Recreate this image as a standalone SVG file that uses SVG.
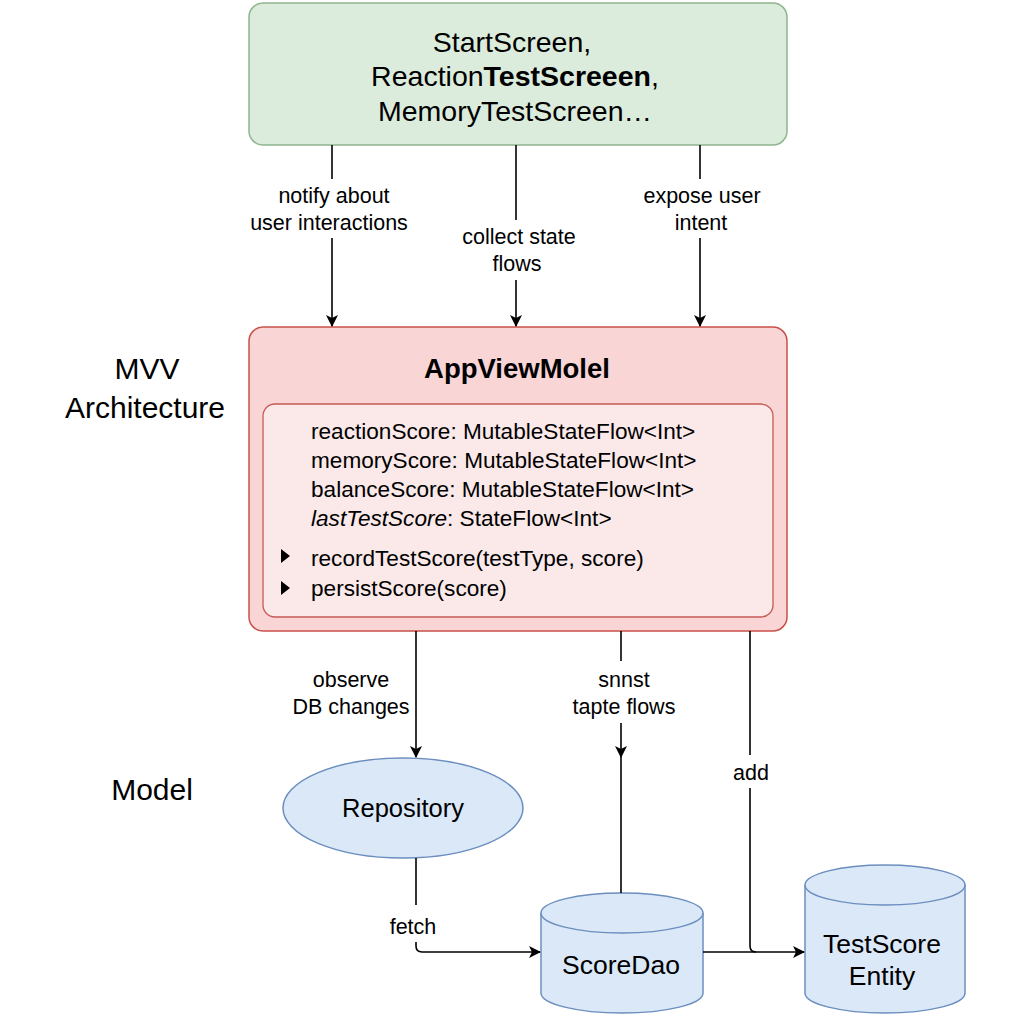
<svg xmlns="http://www.w3.org/2000/svg" width="1024" height="1024" viewBox="0 0 1024 1024">
<defs>
<marker id="ah" markerWidth="12" markerHeight="12" refX="11" refY="6" orient="auto" markerUnits="userSpaceOnUse">
<path d="M0,0 L12,6 L0,12 L3,6 Z" fill="#000"/>
</marker>
<style>
text{font-family:"Liberation Sans",Arial,sans-serif;fill:#000}
.lbl{font-size:21.5px;text-anchor:middle}
.big{font-size:28.5px;text-anchor:middle}
.side{font-size:30px;text-anchor:middle}
.mem{font-size:22.6px}
.ln{stroke:#000;stroke-width:1.6;fill:none}
.db{fill:#dae8f8;stroke:#6c8ebf;stroke-width:1.5}
</style>
</defs>
<rect width="1024" height="1024" fill="#fff"/>

<g id="views">
<rect x="249" y="3" width="538" height="142" rx="14" fill="#dbebdc" stroke="#8fb58f" stroke-width="1.5"/>
<text class="big" x="512" y="52">StartScreen,</text>
<text class="big" x="515" y="86">Reaction<tspan font-weight="bold">TestScreeen</tspan>,</text>
<text class="big" x="515" y="121">MemoryTestScreen…</text>
</g>

<g id="labels-side">
<text class="side" x="147" y="379">MVV</text>
<text class="side" x="145" y="418">Architecture</text>
<text class="side" x="152" y="800">Model</text>
</g>

<g id="viewmodel">
<rect x="249" y="327" width="538" height="304" rx="14" fill="#f9d5d5" stroke="#c9504a" stroke-width="1.5"/>
<text x="517" y="378" font-size="27.5" font-weight="bold" text-anchor="middle">AppViewMolel</text>
<rect x="263" y="404" width="510" height="213" rx="12" fill="#fbe9e9" stroke="#c65a55" stroke-width="1.3"/>
<text class="mem" x="311" y="439">reactionScore: MutableStateFlow&lt;Int&gt;</text>
<text class="mem" x="311" y="468">memoryScore: MutableStateFlow&lt;Int&gt;</text>
<text class="mem" x="311" y="497">balanceScore: MutableStateFlow&lt;Int&gt;</text>
<text class="mem" x="311" y="526"><tspan font-style="italic">lastTestScore</tspan>: StateFlow&lt;Int&gt;</text>
<path d="M281,549 L290,556 L281,563 Z" fill="#000"/>
<text class="mem" x="311" y="566">recordTestScore(testType, score)</text>
<path d="M281,581 L290,588 L281,595 Z" fill="#000"/>
<text class="mem" x="311" y="596">persistScore(score)</text>
</g>

<g id="repository">
<ellipse cx="403" cy="808" rx="120" ry="50" fill="#dae8f8" stroke="#6c8ebf" stroke-width="1.5"/>
<text x="403" y="817" font-size="25.5" text-anchor="middle">Repository</text>
</g>

<g id="scoredao">
<path class="db" d="M541,913 A81,20 0 0 1 703,913 L703,993 A81,20 0 0 1 541,993 Z"/>
<path class="db" d="M541,913 A81,20 0 0 0 703,913" fill="none"/>
<text x="621" y="974" font-size="26.5" text-anchor="middle">ScoreDao</text>
</g>

<g id="testscore">
<path class="db" d="M805,885 A80,20 0 0 1 965,885 L965,993 A80,20 0 0 1 805,993 Z"/>
<path class="db" d="M805,885 A80,20 0 0 0 965,885" fill="none"/>
<text x="882" y="953" font-size="26.5" text-anchor="middle">TestScore</text>
<text x="882" y="985" font-size="26.5" text-anchor="middle">Entity</text>
</g>

<g id="connectors">
<line class="ln" x1="332" y1="145" x2="332" y2="179"/>
<line class="ln" x1="332" y1="238" x2="332" y2="326" marker-end="url(#ah)"/>
<line class="ln" x1="516" y1="145" x2="516" y2="220"/>
<line class="ln" x1="516" y1="280" x2="516" y2="326" marker-end="url(#ah)"/>
<line class="ln" x1="700" y1="145" x2="700" y2="179"/>
<line class="ln" x1="700" y1="238" x2="700" y2="326" marker-end="url(#ah)"/>

<line class="ln" x1="416" y1="631" x2="416" y2="757" marker-end="url(#ah)"/>
<line class="ln" x1="621" y1="631" x2="621" y2="661"/>
<line class="ln" x1="621" y1="723" x2="621" y2="757" marker-end="url(#ah)"/>
<line class="ln" x1="621" y1="757" x2="621" y2="893"/>
<line class="ln" x1="750" y1="631" x2="750" y2="755"/>
<path class="ln" d="M750,788 L750,946 Q750,952 756,952"/>
<path class="ln" d="M416,858 L416,905"/>
<path class="ln" d="M416,942 L416,946 Q416,952 422,952 L540,952" marker-end="url(#ah)"/>
<line class="ln" x1="703" y1="952" x2="804" y2="952" marker-end="url(#ah)"/>
</g>

<g id="connector-labels">
<text class="lbl" x="334" y="203">notify about</text>
<text class="lbl" x="329" y="230">user interactions</text>
<text class="lbl" x="519" y="244">collect state</text>
<text class="lbl" x="517" y="271">flows</text>
<text class="lbl" x="702" y="203">expose user</text>
<text class="lbl" x="701" y="230">intent</text>
<text class="lbl" x="351" y="687">observe</text>
<text class="lbl" x="351" y="714">DB changes</text>
<text class="lbl" x="624" y="687">snnst</text>
<text class="lbl" x="624" y="714">tapte flows</text>
<text class="lbl" x="751" y="780">add</text>
<text class="lbl" x="413" y="934">fetch</text>
</g>
</svg>
